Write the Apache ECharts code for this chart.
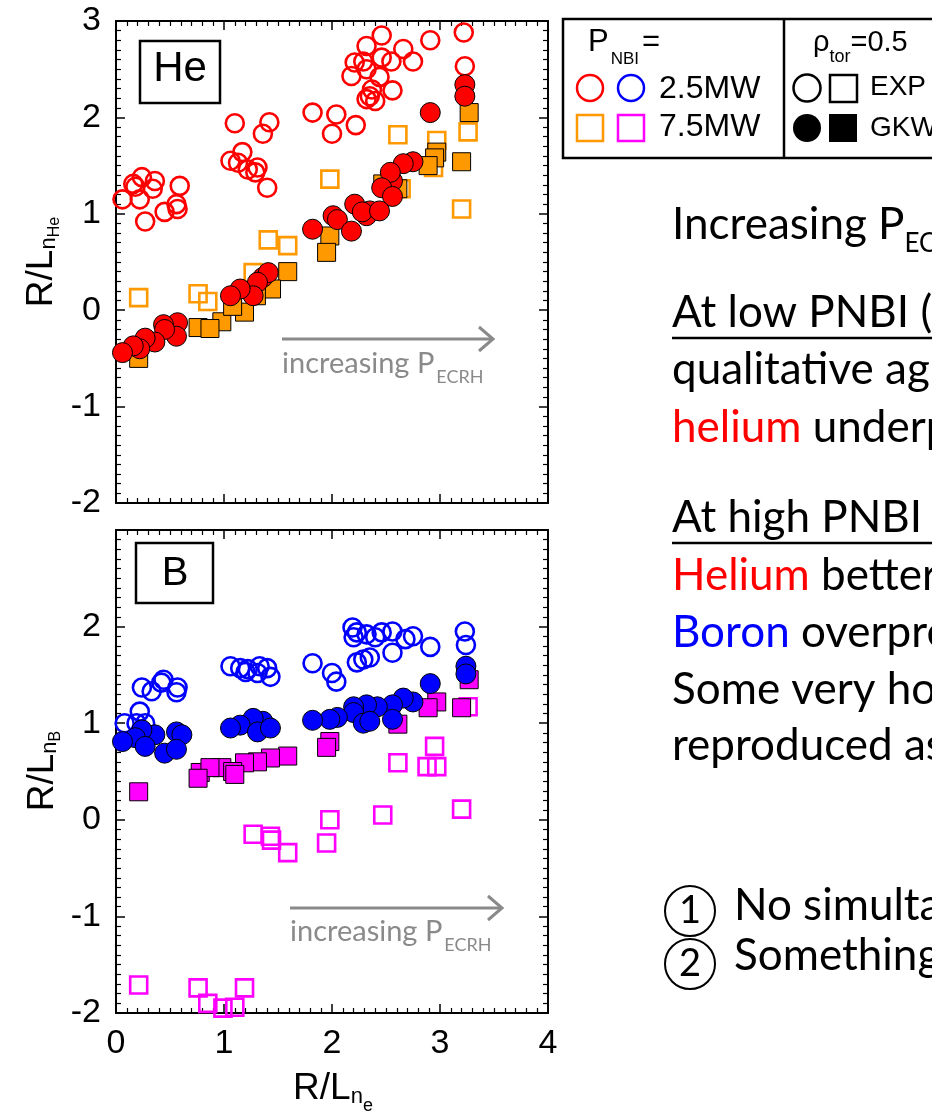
<!DOCTYPE html>
<html>
<head>
<meta charset="utf-8">
<script src="https://cdn.jsdelivr.net/npm/echarts@6/dist/echarts.min.js"></script>
<style>
html,body{margin:0;padding:0;background:#fff}
#chart{width:932px;height:1115px}
</style>
</head>
<body>
<div id="chart"></div>
<script>
// R/L_ne on x, impurity density gradient R/L_nZ on y, rho_tor = 0.5

// Helium, P_NBI = 2.5 MW
const heExpLow = [
  [0.06,1.15],[0.16,1.31],[0.24,1.38],[0.22,1.15],[0.18,1.28],[0.36,1.34],[0.34,1.26],[0.27,0.92],
  [0.45,1.02],[0.56,1.10],[0.57,1.05],[0.59,1.29],
  [1.10,1.94],[1.42,1.95],[1.36,1.83],[1.06,1.55],[1.17,1.64],[1.13,1.53],[1.31,1.48],[1.29,1.43],
  [1.22,1.46],[1.40,1.27],
  [1.82,2.05],[2.04,2.03],[2.00,1.83],[2.22,1.92],
  [2.46,2.85],[2.32,2.74],[2.66,2.71],[2.91,2.80],[3.22,2.88],[2.21,2.57],[2.29,2.58],[2.46,2.62],
  [2.55,2.58],[2.75,2.58],[2.32,2.50],[2.18,2.43],[2.44,2.42],[2.37,2.29],[2.56,2.28],[2.32,2.19],
  [2.40,2.17],[2.35,2.22],[3.23,2.53]
];
const heGkwLow = [
  [3.23,2.34],[3.23,2.22],[2.91,2.05],[2.75,1.54],[2.66,1.52],[2.56,1.34],[2.54,1.43],[2.46,1.27],
  [2.56,1.18],[2.21,1.10],[2.35,1.03],[2.32,0.98],[2.28,1.02],[2.44,1.03],[2.01,0.98],[2.05,0.94],
  [1.82,0.84],[2.18,0.82],
  [1.36,0.34],[1.41,0.39],[1.31,0.29],[1.27,0.15],[1.15,0.22],[1.06,0.15],
  [0.57,-0.13],[0.44,-0.15],[0.56,-0.27],[0.45,-0.20],[0.36,-0.33],[0.27,-0.29],[0.22,-0.40],
  [0.16,-0.37],[0.06,-0.44]
];
// Helium, P_NBI = 7.5 MW
const heExpHigh = [
  [2.61,1.82],[2.97,1.76],[3.26,1.85],[1.98,1.36],[3.20,1.05],[2.94,1.48],[2.64,1.26],
  [1.41,0.73],[1.59,0.67],[0.21,0.13],[0.76,0.17],[0.85,0.09],[1.27,0.39]
];
const heGkwHigh = [
  [3.27,2.05],[3.20,1.54],[2.97,1.64],[2.95,1.58],[2.89,1.50],[2.61,1.26],[2.47,1.31],[1.98,0.77],
  [1.95,0.60],[1.59,0.40],[1.44,0.22],[1.30,0.15],[1.19,-0.02],[0.98,-0.12],[0.76,-0.18],
  [0.87,-0.19],[0.21,-0.50],[1.08,0.04]
];
// Boron, P_NBI = 2.5 MW
const bExpLow = [
  [2.19,1.99],[2.23,1.94],[2.32,1.92],[2.46,1.94],[2.56,1.95],[2.40,1.89],[2.20,1.89],[2.68,1.87],
  [2.75,1.90],[2.91,1.79],[3.23,1.95],[3.24,1.81],[2.56,1.73],[2.35,1.68],[2.23,1.63],[2.29,1.66],
  [1.82,1.62],[2.00,1.52],[2.04,1.43],
  [1.06,1.59],[1.15,1.57],[1.22,1.56],[1.33,1.59],[1.40,1.57],[1.31,1.52],[1.43,1.48],[1.20,1.53],
  [0.24,1.37],[0.33,1.33],[0.44,1.45],[0.42,1.42],[0.57,1.37],[0.56,1.32],[0.08,1.00],[0.22,1.12],
  [0.19,1.00],[0.27,1.00]
];
const bGkwLow = [
  [3.24,1.59],[3.24,1.51],[2.91,1.41],[2.75,1.22],[2.66,1.26],[2.56,1.19],[2.56,1.04],[2.42,1.17],
  [2.32,1.19],[2.20,1.17],[2.20,1.11],[2.29,1.00],[2.35,1.02],[2.05,1.06],[1.98,1.04],[1.82,1.03],
  [1.36,1.02],[1.27,1.05],[1.15,0.98],[1.06,0.95],[1.31,0.91],[1.43,0.95],
  [0.56,0.91],[0.61,0.88],[0.36,0.88],[0.24,0.93],[0.18,0.85],[0.06,0.81],[0.27,0.76],[0.45,0.69],
  [0.56,0.73]
];
// Boron, P_NBI = 7.5 MW
const bExpHigh = [
  [3.26,1.17],[2.95,0.76],[2.88,0.55],[2.97,0.55],[2.61,0.59],[3.20,0.11],[2.47,0.05],[1.98,0.00],
  [1.95,-0.24],[1.59,-0.34],[1.43,-0.17],[1.44,-0.21],[1.27,-0.15],
  [0.21,-1.71],[0.76,-1.74],[1.19,-1.74],[0.85,-1.90],[0.99,-1.95],[1.10,-1.94]
];
const bGkwHigh = [
  [3.27,1.45],[2.97,1.22],[2.89,1.16],[3.20,1.16],[2.61,0.99],[1.98,0.81],[1.95,0.75],[1.59,0.66],
  [1.43,0.64],[1.31,0.60],[1.19,0.59],[0.98,0.54],[0.78,0.49],[0.87,0.54],[1.08,0.50],[0.21,0.29],
  [0.76,0.43],[1.10,0.47]
];

// tick labels
const xTickLabels = [0, 1, 2, 3, 4];
const yTickLabelsHe = [-2, -1, 0, 1, 2, 3];
const yTickLabelsB = [-2, -1, 0, 1, 2];

const RED = '#ff0000', ORANGE = '#ff9900', BLUE = '#0000ff', MAGENTA = '#ff00ff';
const GRAY = '#8a8a8a';
const SANS = '"Liberation Sans"';
const BODY = 'Lato';

// text measuring for subscripted runs
const mctx = document.createElement('canvas').getContext('2d');
function tw(str, size, fam) { mctx.font = size + 'px ' + fam; return mctx.measureText(str).width; }
const MID = { '"Liberation Sans"': 0.347, 'Lato': 0.387 };

// parts: [text, size, dy(baseline shift), color, dx]
function runs(x0, base, parts, fam, anchor) {
  const widths = parts.map(p => tw(p[0], p[1], fam) + (p[4] || 0));
  const total = widths.reduce((a, b) => a + b, 0);
  let x = anchor === 'center' ? x0 - total / 2 : x0;
  return parts.map((p, i) => {
    const dx = p[4] || 0;
    const el = {
      type: 'text', x: x + dx, y: base + (p[2] || 0) - MID[fam] * p[1],
      style: {
        text: p[0], font: p[1] + 'px ' + fam, fill: p[3] || '#000',
        align: 'left', verticalAlign: 'middle', textAlign: 'left', textVerticalAlign: 'middle'
      }
    };
    x += widths[i];
    return el;
  });
}

function xAx(grid, pos, labels) {
  return {
    type: 'value', gridIndex: grid, position: pos, min: 0, max: 4, interval: 1,
    axisLine: { show: true, onZero: false, lineStyle: { color: '#000', width: 2 } },
    axisTick: { show: true, inside: true, length: 9, lineStyle: { color: '#000', width: 1.5 } },
    minorTick: { show: true, splitNumber: 10, length: 5, lineStyle: { color: '#000', width: 1.2 } },
    splitLine: { show: false }, minorSplitLine: { show: false },
    axisLabel: {
      show: labels, margin: 14, fontSize: 34, fontFamily: SANS, color: '#000',
      formatter: v => xTickLabels.includes(v) ? String(v) : ''
    }
  };
}
function yAx(grid, pos, ticks) {
  return {
    type: 'value', gridIndex: grid, position: pos, min: -2, max: 3, interval: 1,
    axisLine: { show: true, onZero: false, lineStyle: { color: '#000', width: 2 } },
    axisTick: { show: true, inside: true, length: 9, lineStyle: { color: '#000', width: 1.5 } },
    minorTick: { show: true, splitNumber: 10, length: 5, lineStyle: { color: '#000', width: 1.2 } },
    splitLine: { show: false }, minorSplitLine: { show: false },
    axisLabel: {
      show: !!ticks, margin: 15, fontSize: 34, fontFamily: SANS, color: '#000',
      formatter: v => (ticks && ticks.includes(v)) ? String(v) : ''
    }
  };
}

function openSeries(data, symbol, color, ax) {
  return {
    type: 'scatter', data, xAxisIndex: ax, yAxisIndex: ax, symbol,
    symbolSize: symbol === 'circle' ? 18 : 17,
    itemStyle: { color: 'rgba(0,0,0,0)', borderColor: color, borderWidth: 2.6, opacity: 1 },
    emphasis: { disabled: true }
  };
}
function fullSeries(data, symbol, color, ax) {
  return {
    type: 'scatter', data, xAxisIndex: ax, yAxisIndex: ax, symbol,
    symbolSize: symbol === 'circle' ? 20 : 18,
    itemStyle: { color, borderColor: '#000', borderWidth: 1, opacity: 1 },
    emphasis: { disabled: true }
  };
}

const g = [];
// panel tags
g.push({ type: 'rect', shape: { x: 140, y: 41, width: 80, height: 62 }, style: { fill: 'none', stroke: '#000', lineWidth: 2.5 } });
g.push(...runs(180, 84, [['He', 42, 0]], SANS, 'center'));
g.push({ type: 'rect', shape: { x: 136, y: 543, width: 77, height: 60 }, style: { fill: 'none', stroke: '#000', lineWidth: 2.5 } });
g.push(...runs(175, 588, [['B', 40, 0]], SANS, 'center'));

// ECRH arrows
function arrow(x1, x2, y) {
  g.push({ type: 'line', shape: { x1, y1: y, x2, y2: y }, style: { stroke: GRAY, lineWidth: 3 } });
  g.push({ type: 'polyline', shape: { points: [[x2 - 14, y - 12], [x2, y], [x2 - 14, y + 12]] }, style: { stroke: GRAY, lineWidth: 3, fill: 'none' } });
}
arrow(282, 493, 339);
g.push(...runs(282, 375, [['increasing P', 29, 0, GRAY], ['ECRH', 18, 9, GRAY, 2]], BODY, 'left'));
arrow(290, 502, 908);
g.push(...runs(290, 943, [['increasing P', 29, 0, GRAY], ['ECRH', 18, 9, GRAY, 2]], BODY, 'left'));

// axis titles
g.push({ type: 'group', x: 55, y: 262, rotation: Math.PI / 2,
  children: runs(0, 0, [['R/L', 37, 0], ['n', 22, 2], ['He', 16, 5]], SANS, 'center') });
g.push({ type: 'group', x: 56, y: 771, rotation: Math.PI / 2,
  children: runs(0, 0, [['R/L', 37, 0], ['n', 22, 2], ['B', 16, 5]], SANS, 'center') });
g.push(...runs(333, 1102, [['R/L', 37, 0], ['n', 22, 3], ['e', 18, 10]], SANS, 'center'));

// legend box
g.push({ type: 'rect', shape: { x: 563, y: 19, width: 500, height: 139 }, style: { fill: 'none', stroke: '#000', lineWidth: 2.5 } });
g.push({ type: 'line', shape: { x1: 784, y1: 19, x2: 784, y2: 158 }, style: { stroke: '#000', lineWidth: 2.5 } });
g.push(...runs(588, 53, [['P', 31, 0], ['NBI', 17, 12, '#000', 2], ['=', 31, 0, '#000', 3]], SANS, 'left'));
g.push({ type: 'circle', shape: { cx: 590, cy: 88, r: 13 }, style: { fill: 'none', stroke: RED, lineWidth: 2.5 } });
g.push({ type: 'circle', shape: { cx: 631, cy: 88, r: 13 }, style: { fill: 'none', stroke: BLUE, lineWidth: 2.5 } });
g.push({ type: 'rect', shape: { x: 577, y: 115, width: 26, height: 26 }, style: { fill: 'none', stroke: ORANGE, lineWidth: 2.5 } });
g.push({ type: 'rect', shape: { x: 618, y: 115, width: 26, height: 26 }, style: { fill: 'none', stroke: MAGENTA, lineWidth: 2.5 } });
g.push(...runs(659, 100, [['2.5MW', 32, 0]], SANS, 'left'));
g.push(...runs(659, 138, [['7.5MW', 32, 0]], SANS, 'left'));
g.push(...runs(813, 53, [['ρ', 29, 0], ['tor', 18, 10], ['=0.5', 29, 0]], SANS, 'left'));
g.push({ type: 'circle', shape: { cx: 807, cy: 88, r: 13.5 }, style: { fill: 'none', stroke: '#000', lineWidth: 2.5 } });
g.push({ type: 'rect', shape: { x: 830, y: 75, width: 27, height: 27 }, style: { fill: 'none', stroke: '#000', lineWidth: 2.5 } });
g.push({ type: 'circle', shape: { cx: 807, cy: 128, r: 14 }, style: { fill: '#000' } });
g.push({ type: 'rect', shape: { x: 829, y: 114, width: 28, height: 28 }, style: { fill: '#000' } });
g.push(...runs(870, 97, [['EXP', 28, 0]], SANS, 'left'));
g.push(...runs(870, 138, [['GKW', 28, 0]], SANS, 'left'));

// notes
const NX = 672, NS = 44;
g.push(...runs(NX, 242, [['Increasing P', NS, 0], ['ECRH', 26, 12]], BODY, 'left'));
g.push(...runs(NX, 330, [['At low PNBI (circles)', NS, 0]], BODY, 'left'));
g.push({ type: 'line', shape: { x1: NX, y1: 338, x2: 1000, y2: 338 }, style: { stroke: '#000', lineWidth: 2.5 } });
g.push(...runs(NX, 387, [['qualitative agreement', NS, 0]], BODY, 'left'));
g.push(...runs(NX, 445, [['helium', NS, 0, RED], [' underpredicted', NS, 0]], BODY, 'left'));
g.push(...runs(NX, 535, [['At high PNBI (squares)', NS, 0]], BODY, 'left'));
g.push({ type: 'line', shape: { x1: NX, y1: 543, x2: 1000, y2: 543 }, style: { stroke: '#000', lineWidth: 2.5 } });
g.push(...runs(NX, 593, [['Helium', NS, 0, RED], [' better reproduced', NS, 0]], BODY, 'left'));
g.push(...runs(NX, 650, [['Boron', NS, 0, BLUE], [' overpredicted', NS, 0]], BODY, 'left'));
g.push(...runs(NX, 707, [['Some very hollow profiles', NS, 0]], BODY, 'left'));
g.push(...runs(NX, 763, [['reproduced as well', NS, 0]], BODY, 'left'));
g.push({ type: 'circle', shape: { cx: 690, cy: 911, r: 25 }, style: { fill: 'none', stroke: '#000', lineWidth: 2 } });
g.push(...runs(690, 925, [['1', 38, 0]], BODY, 'center'));
g.push({ type: 'circle', shape: { cx: 690, cy: 964, r: 25 }, style: { fill: 'none', stroke: '#000', lineWidth: 2 } });
g.push(...runs(690, 978, [['2', 38, 0]], BODY, 'center'));
g.push(...runs(734, 923, [['No simultaneous', NS, 0]], BODY, 'left'));
g.push(...runs(734, 973, [['Something', NS, 0]], BODY, 'left'));

const chart = echarts.init(document.getElementById('chart'), null, { renderer: 'canvas' });
chart.setOption({
  animation: false,
  backgroundColor: '#fff',
  grid: [
    { left: 116, top: 21, width: 432, height: 482 },
    { left: 116, top: 530, width: 432, height: 483 }
  ],
  xAxis: [xAx(0, 'bottom', false), xAx(1, 'bottom', true), xAx(0, 'top', false), xAx(1, 'top', false)],
  yAxis: [yAx(0, 'left', yTickLabelsHe), yAx(1, 'left', yTickLabelsB), yAx(0, 'right', null), yAx(1, 'right', null)],
  series: [
    openSeries(heExpLow, 'circle', RED, 0),
    openSeries(heExpHigh, 'rect', ORANGE, 0),
    fullSeries(heGkwHigh, 'rect', ORANGE, 0),
    fullSeries(heGkwLow, 'circle', RED, 0),
    openSeries(bExpLow, 'circle', BLUE, 1),
    openSeries(bExpHigh, 'rect', MAGENTA, 1),
    fullSeries(bGkwHigh, 'rect', MAGENTA, 1),
    fullSeries(bGkwLow, 'circle', BLUE, 1)
  ],
  graphic: { elements: g }
});
</script>
</body>
</html>
